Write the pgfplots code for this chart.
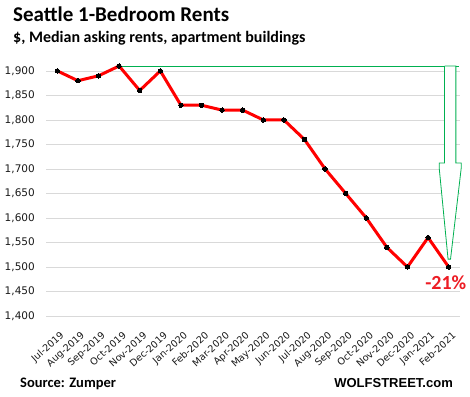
\documentclass[border=0pt]{standalone}
\usepackage{pgfplots}
\pgfplotsset{compat=1.18}
\usepackage{fontspec}
\setmainfont{Carlito}
\newfontfamily\tickfont{DejaVu Sans}
\newfontfamily\wolf{Liberation Sans}
\definecolor{gridgray}{RGB}{217,217,217}
\definecolor{arrowgreen}{RGB}{0,176,80}
\definecolor{pctred}{RGB}{237,28,36}
\begin{document}
\begin{tikzpicture}[x=1pt,y=1pt]
\useasboundingbox (0,0) rectangle (470,-396);
\begin{axis}[
  at={(46pt,-316pt)}, anchor=south west,
  scale only axis, width=414pt, height=250pt,
  xmin=-0.55, xmax=19.55, ymin=1400, ymax=1910,
  axis line style={draw=none}, major tick length=0pt,
  ytick={1400,1450,...,1900},
  ymajorgrids, major grid style={gridgray, line width=0.8pt},
  /pgf/number format/assume math mode=true,
  /pgf/number format/1000 sep={,},
  yticklabel style={font=\tickfont\fontsize{10.5}{12}\selectfont, inner sep=0pt, anchor=east, xshift=-11pt, text=black!90},
  xtick={0,...,19},
  xticklabels={Jul-2019,Aug-2019,Sep-2019,Oct-2019,Nov-2019,Dec-2019,Jan-2020,Feb-2020,Mar-2020,Apr-2020,May-2020,Jun-2020,Jul-2020,Aug-2020,Sep-2020,Oct-2020,Nov-2020,Dec-2020,Jan-2021,Feb-2021},
  xticklabel style={font=\tickfont\fontsize{9.6}{11}\selectfont, xshift=5.5pt, yshift=-18pt, rotate=42, anchor=east, inner sep=0pt, text=black!90},
  clip=false,
]
\addplot[red, line width=3pt, line join=round, mark=*, mark size=2.2pt, mark options={black, fill=black, line width=0pt}] coordinates {
(0,1900) (1,1880) (2,1890) (3,1910) (4,1860) (5,1900) (6,1830) (7,1830) (8,1820) (9,1820)
(10,1800) (11,1800) (12,1760) (13,1700) (14,1650) (15,1600) (16,1540) (17,1500) (18,1560) (19,1500)};
\addplot[arrowgreen, line width=0.8pt] coordinates {(3,1910) (19.51,1910)};
\addplot[arrowgreen, line width=0.8pt, fill=white, line join=miter] coordinates {
(18.80,1910) (18.80,1712) (18.54,1712) (18.54,1702) (18.97,1516) (19.09,1516)
(19.61,1702) (19.61,1712) (19.35,1712) (19.35,1910) (18.80,1910)};
\node[anchor=base, fill=white, inner sep=1.5pt, text=pctred, font=\bfseries\fontsize{20}{22}\selectfont] at (axis cs:18.86,1455) {-21\%};
\end{axis}
\node[anchor=base west, inner sep=0pt, font=\bfseries\fontsize{21}{24}\selectfont] at (13,-21.5) {Seattle 1-Bedroom Rents};
\node[anchor=base west, inner sep=0pt, font=\bfseries\fontsize{16}{19}\selectfont] at (13,-42.7) {\$, Median asking rents, apartment buildings};
\node[anchor=base west, inner sep=0pt, font=\bfseries\fontsize{14.5}{17}\selectfont] at (20,-387.7) {Source: Zumper};
\node[anchor=base east, inner sep=0pt, font=\wolf\bfseries\fontsize{13}{16}\selectfont] at (453,-387.7) {WOLFSTREET.com};
\end{tikzpicture}
\end{document}
